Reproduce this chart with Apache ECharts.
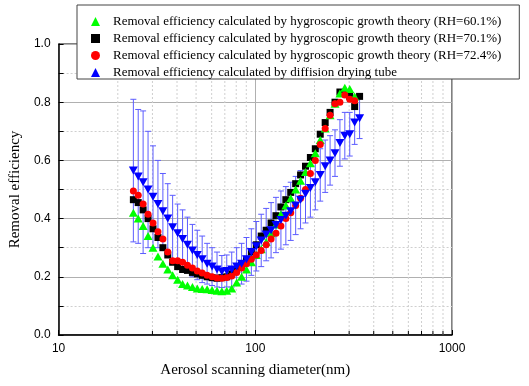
<!DOCTYPE html>
<html>
<head>
<meta charset="utf-8">
<script src="https://cdn.jsdelivr.net/npm/echarts@6/dist/echarts.min.js"></script>
<style>
  html, body { margin: 0; padding: 0; background: #fff; }
  #chart { width: 529px; height: 386px; }
</style>
</head>
<body>
<div id="chart"></div>
<script>
// aerosol scanning diameter (nm)
const diameters = [
  24.0, 25.4, 26.9, 28.5, 30.2, 32.0, 33.9, 35.9, 38.0, 40.3,
  42.7, 45.2, 47.9, 50.7, 53.7, 56.9, 60.3, 63.9, 67.6, 71.6,
  75.9, 80.4, 85.2, 90.2, 95.5, 101.2, 107.2, 113.6, 120.3, 127.4,
  135.0, 143.0, 151.4, 160.4, 169.9, 180.0, 190.6, 201.9, 213.9, 226.6,
  240.0, 254.2, 269.3, 285.2, 302.1, 320.0, 339.0
]

const rh601 = [
  0.42, 0.40, 0.375, 0.34, 0.30, 0.27, 0.245, 0.225, 0.205, 0.19,
  0.175, 0.17, 0.165, 0.16, 0.158, 0.157, 0.155, 0.152, 0.15, 0.152,
  0.16, 0.18, 0.20, 0.225, 0.25, 0.275, 0.295, 0.32, 0.35, 0.38,
  0.415, 0.445, 0.47, 0.50, 0.53, 0.56, 0.59, 0.625, 0.67, 0.71,
  0.755, 0.795, 0.83, 0.85, 0.845, 0.82
]

const rh701 = [
  0.465, 0.455, 0.43, 0.40, 0.365, 0.335, 0.30, 0.275, 0.25, 0.235,
  0.225, 0.222, 0.215, 0.21, 0.205, 0.20, 0.197, 0.195, 0.197, 0.20,
  0.21, 0.225, 0.24, 0.26, 0.285, 0.31, 0.34, 0.36, 0.385, 0.41,
  0.44, 0.465, 0.49, 0.52, 0.55, 0.58, 0.61, 0.64, 0.69, 0.73,
  0.765, 0.80, 0.835, 0.83, 0.82, 0.785, 0.82
]

const rh724 = [
  0.495, 0.48, 0.45, 0.415, 0.385, 0.355, 0.33, 0.285, 0.255, 0.255,
  0.25, 0.24, 0.23, 0.22, 0.213, 0.205, 0.20, 0.196, 0.195, 0.198,
  0.203, 0.215, 0.23, 0.245, 0.26, 0.275, 0.29, 0.31, 0.33, 0.35,
  0.375, 0.40, 0.42, 0.445, 0.47, 0.50, 0.555, 0.60, 0.655, 0.71,
  0.755, 0.795, 0.80, 0.825, 0.81, 0.805
]

const dryingTube = [
  0.565, 0.545, 0.525, 0.50, 0.475, 0.45, 0.425, 0.40, 0.37, 0.35,
  0.33, 0.31, 0.29, 0.275, 0.26, 0.245, 0.235, 0.225, 0.218, 0.22,
  0.225, 0.235, 0.245, 0.26, 0.285, 0.305, 0.325, 0.345, 0.36, 0.378,
  0.395, 0.41, 0.425, 0.445, 0.465, 0.485, 0.505, 0.525, 0.55, 0.58,
  0.60, 0.625, 0.66, 0.685, 0.69, 0.73, 0.745
]

// +/- error of the drying tube measurement
const dryingTubeErr = [
  0.245, 0.23, 0.245, 0.20, 0.175, 0.15, 0.13, 0.12, 0.11, 0.10,
  0.10, 0.095, 0.09, 0.085, 0.08, 0.07, 0.065, 0.06, 0.055, 0.055,
  0.06, 0.065, 0.07, 0.075, 0.08, 0.085, 0.09, 0.09, 0.095, 0.095,
  0.10, 0.10, 0.10, 0.10, 0.10, 0.10, 0.10, 0.095, 0.09, 0.09,
  0.085, 0.08, 0.08, 0.08, 0.075, 0.075, 0.07
]

// minor log positions for the dotted grid
const minorX = [20, 30, 40, 50, 60, 70, 80, 90, 200, 300, 400, 500, 600, 700, 800, 900]

const names = [
  'Removal efficiency calculated by hygroscopic growth theory (RH=60.1%)',
  'Removal efficiency calculated by hygroscopic growth theory (RH=70.1%)',
  'Removal efficiency calculated by hygroscopic growth theory (RH=72.4%)',
  'Removal efficiency calculated by diffision drying tube'
]

function pairs(vals) {
  return vals.map((v, i) => [diameters[i], v])
}

const chart = echarts.init(document.getElementById('chart'))

chart.setOption({
  animation: false,
  grid: {
    left: 51,
    right: 77,
    top: 44,
    bottom: 51,
    show: true,
    borderColor: '#000',
    borderWidth: 1
  },
  legend: {
    data: names,
    orient: 'vertical',
    left: 77,
    top: 5,
    padding: [10, 18, 0, 14],
    itemWidth: 9,
    itemHeight: 9,
    itemGap: 4,
    backgroundColor: '#fff',
    borderColor: '#444',
    borderWidth: 1,
    textStyle: {
      fontFamily: 'Liberation Serif',
      fontSize: 13,
      lineHeight: 13,
      color: '#000',
      padding: [0, 0, 0, 8]
    }
  },
  xAxis: {
    type: 'log',
    logBase: 10,
    min: 10,
    max: 1000,
    name: 'Aerosol scanning diameter(nm)',
    nameLocation: 'middle',
    nameGap: 28,
    nameTextStyle: { fontFamily: 'Liberation Serif', fontSize: 15, color: '#000' },
    axisLine: { lineStyle: { color: '#000', width: 1.5 } },
    axisTick: { inside: true, length: 5, lineStyle: { color: '#000' } },
    axisLabel: {
      fontFamily: 'Liberation Sans',
      fontSize: 12,
      color: '#000',
      margin: 8,
      formatter: v => String(Math.round(v))
    },
    splitLine: { show: true, lineStyle: { color: '#b0b0b0', width: 1 } }
  },
  yAxis: {
    type: 'value',
    min: 0,
    max: 1,
    interval: 0.2,
    name: 'Removal efficiency',
    nameLocation: 'middle',
    nameGap: 30,
    nameTextStyle: { fontFamily: 'Liberation Serif', fontSize: 15, color: '#000' },
    axisLine: { show: true, lineStyle: { color: '#000', width: 1.5 } },
    axisTick: { show: true, inside: true, length: 5, lineStyle: { color: '#000' } },
    minorTick: { show: true, splitNumber: 2, length: 5, lineStyle: { color: '#000' } },
    axisLabel: {
      fontFamily: 'Liberation Sans',
      fontSize: 12,
      color: '#000',
      margin: 8,
      formatter: v => v.toFixed(1)
    },
    splitLine: { show: true, lineStyle: { color: '#b0b0b0', width: 1 } },
    minorSplitLine: { show: true, lineStyle: { color: '#cfcfcf', type: [2, 2] } }
  },
  series: [
    {
      // dotted minor grid + inward minor ticks on the log axis
      type: 'custom',
      silent: true,
      z: 1,
      data: minorX.map(v => [v]),
      renderItem: function(params, api) {
        const bot = api.coord([api.value(0), 0])
        const top = api.coord([api.value(0), 1])
        return {
          type: 'group',
          children: [
            {
              type: 'line',
              shape: { x1: bot[0], y1: bot[1], x2: top[0], y2: top[1] },
              style: { stroke: '#cfcfcf', lineWidth: 1, lineDash: [2, 2] }
            },
            {
              type: 'line',
              shape: { x1: bot[0], y1: bot[1], x2: bot[0], y2: bot[1] - 4 },
              style: { stroke: '#000', lineWidth: 1 }
            }
          ]
        }
      }
    },
    {
      name: names[1],
      type: 'scatter',
      symbol: 'rect',
      symbolSize: 7,
      itemStyle: { color: '#000', opacity: 1 },
      data: pairs(rh701),
      z: 3
    },
    {
      name: names[0],
      type: 'scatter',
      symbol: 'triangle',
      symbolSize: [9, 8],
      itemStyle: { color: '#00ff00', opacity: 1 },
      data: pairs(rh601),
      z: 3
    },
    {
      name: names[2],
      type: 'scatter',
      symbol: 'circle',
      symbolSize: 7,
      itemStyle: { color: '#ff0000', opacity: 1 },
      data: pairs(rh724),
      z: 3
    },
    {
      // error bars of the drying tube series
      type: 'custom',
      silent: true,
      z: 3,
      data: dryingTube.map((v, i) => [diameters[i], v - dryingTubeErr[i], v + dryingTubeErr[i]]),
      encode: { x: 0, y: [1, 2] },
      renderItem: function(params, api) {
        const lo = api.coord([api.value(0), api.value(1)])
        const hi = api.coord([api.value(0), api.value(2)])
        const w = 3
        const style = { stroke: '#5c5cff', lineWidth: 1 }
        return {
          type: 'group',
          children: [
            { type: 'line', shape: { x1: lo[0], y1: lo[1], x2: hi[0], y2: hi[1] }, style: style },
            { type: 'line', shape: { x1: hi[0] - w, y1: hi[1], x2: hi[0] + w, y2: hi[1] }, style: style },
            { type: 'line', shape: { x1: lo[0] - w, y1: lo[1], x2: lo[0] + w, y2: lo[1] }, style: style }
          ]
        }
      }
    },
    {
      name: names[3],
      type: 'scatter',
      symbol: 'triangle',
      symbolRotate: 180,
      symbolSize: [9, 8],
      itemStyle: { color: '#0000ff', opacity: 1 },
      data: pairs(dryingTube),
      z: 4
    }
  ]
})
</script>
</body>
</html>
